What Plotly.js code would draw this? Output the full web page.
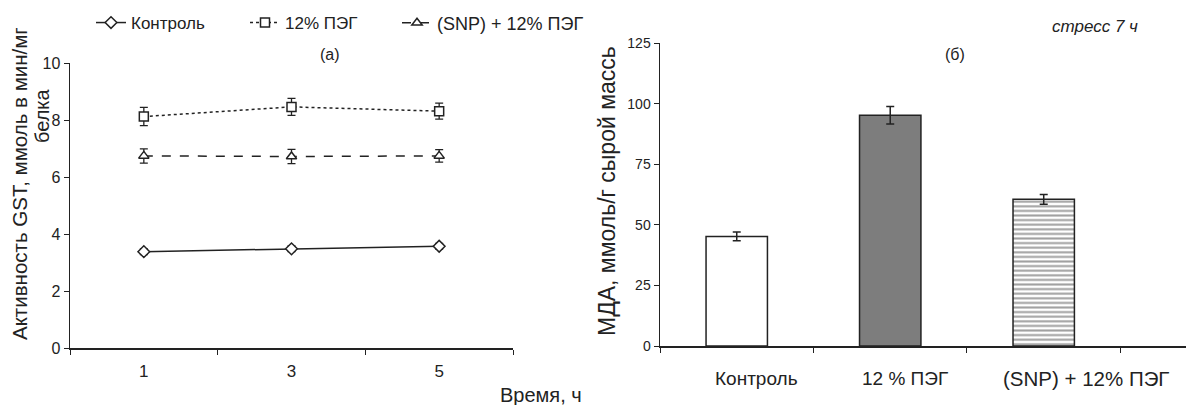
<!DOCTYPE html>
<html>
<head>
<meta charset="utf-8">
<script src="https://cdn.plot.ly/plotly-3.0.1.min.js"></script>
<style>html,body{margin:0;padding:0;background:#fff;}#chart{width:1186px;height:405px;}</style>
</head>
<body>
<div id="chart"></div>
<script>
// Panel (a): GST activity over time
const timeLabels = ['1', '3', '5'];
const controlGST = [3.38, 3.48, 3.57];
const controlGSTErr = [0.10, 0.10, 0.10];
const pegGST = [8.12, 8.46, 8.31];
const pegGSTErr = [0.32, 0.30, 0.28];
const snpGST = [6.74, 6.72, 6.74];
const snpGSTErr = [0.25, 0.25, 0.22];
const seriesNames = ['Контроль', '12% ПЭГ', '(SNP) + 12% ПЭГ'];

// Panel (б): MDA content
const mdaCategories = ['Контроль', '12 % ПЭГ', '(SNP) + 12% ПЭГ'];
const mdaValues = [45.2, 95.2, 60.5];
const mdaErr = [1.8, 3.6, 2.0];

const FONT = 'Liberation Sans, Arial, sans-serif';
const INK = '#222';

function lineTrace(y, err, name, dash, symbol, legendId) {
  return {
    type: 'scatter', mode: 'lines+markers', x: timeLabels, y: y, name: name,
    xaxis: 'x', yaxis: 'y', legend: legendId,
    line: {color: INK, width: 1.5, dash: dash},
    marker: {symbol: symbol, size: 9, color: '#fff', line: {color: INK, width: 1.5}},
    error_y: {type: 'data', array: err, visible: true, color: INK, thickness: 1.3, width: 4}
  };
}

const traces = [
  lineTrace(controlGST, controlGSTErr, seriesNames[0], 'solid', 'diamond', 'legend'),
  lineTrace(pegGST, pegGSTErr, seriesNames[1], 'dot', 'square', 'legend2'),
  lineTrace(snpGST, snpGSTErr, seriesNames[2], 'dash', 'triangle-up', 'legend3'),
  {
    type: 'bar', x: mdaCategories, y: mdaValues, xaxis: 'x2', yaxis: 'y2', showlegend: false,
    width: 0.40,
    marker: {
      color: ['#ffffff', '#7d7d7d', '#ffffff'],
      line: {color: INK, width: 1.5},
      pattern: {shape: ['', '', '-'], size: 4.6, solidity: 0.45, fgcolor: '#000', fillmode: 'overlay'}
    },
    error_y: {type: 'data', array: mdaErr, visible: true, color: INK, thickness: 1.5, width: 4}
  }
];

function ann(text, x, y, size, extra) {
  return Object.assign({text: text, xref: 'paper', yref: 'paper', x: x/1186, y: 1 - y/405,
    xanchor: 'center', yanchor: 'middle', showarrow: false,
    font: {size: size, family: FONT, color: INK}}, extra || {});
}

const catLabelShift = [20, 15, 0];
const catAnnotations = mdaCategories.map((c, i) => ({
  text: c, xref: 'x2', yref: 'paper', x: c, y: 1 - 378/405,
  xanchor: i === 2 ? 'left' : 'center', xshift: i === 2 ? -43 : catLabelShift[i],
  yanchor: 'middle', showarrow: false, font: {size: i === 2 ? 20.5 : 19, family: FONT, color: INK}
}));

function legendAt(xPx, size) {
  return {
    orientation: 'h', x: xPx/1186, xanchor: 'left', y: 1 - 23/405, yanchor: 'middle',
    font: {size: size, family: FONT, color: INK}, bgcolor: 'rgba(0,0,0,0)'
  };
}

const layout = {
  width: 1186, height: 405,
  margin: {l: 0, r: 0, t: 0, b: 0},
  paper_bgcolor: '#fff', plot_bgcolor: 'rgba(0,0,0,0)',
  font: {family: FONT, color: INK, size: 16},
  showlegend: true,
  legend: legendAt(91, 17),
  legend2: legendAt(245, 17),
  legend3: legendAt(397, 18),
  xaxis: {
    domain: [70/1186, 513/1186], type: 'category', range: [-0.5, 2.5],
    showline: true, linecolor: INK, linewidth: 1.5, showgrid: false, zeroline: false,
    ticks: 'outside', ticklen: 5, tickcolor: INK, tickson: 'boundaries', ticklabelstandoff: 7,
    tickfont: {size: 17, family: FONT, color: INK}, automargin: false
  },
  yaxis: {
    domain: [1 - 348/405, 1 - 63/405], range: [0, 10], dtick: 2,
    showline: true, linecolor: INK, linewidth: 1.5, showgrid: false, zeroline: false,
    ticks: 'outside', ticklen: 5, tickcolor: INK,
    tickfont: {size: 16, family: FONT, color: INK}, automargin: false
  },
  xaxis2: {
    domain: [660/1186, 1], type: 'category', range: [-0.5, 2.927], anchor: 'y2',
    showline: true, linecolor: INK, linewidth: 1.5, showgrid: false, zeroline: false,
    ticks: 'outside', ticklen: 5, tickcolor: INK, tickson: 'boundaries',
    showticklabels: false, automargin: false
  },
  yaxis2: {
    domain: [1 - 346/405, 1 - 43/405], range: [0, 125], dtick: 25, anchor: 'x2',
    showline: true, linecolor: INK, linewidth: 1.5, showgrid: false, zeroline: false,
    ticks: 'outside', ticklen: 5, tickcolor: INK,
    tickfont: {size: 14, family: FONT, color: INK}, automargin: false
  },
  annotations: [
    ann('Активность GST, ммоль в мин/мг', 19, 184, 20.5, {textangle: -90}),
    ann('белка', 42, 116, 20, {textangle: -90}),
    ann('Время, ч', 541, 395, 20),
    ann('(а)', 330, 55, 16),
    ann('МДА, ммоль/г сырой массь', 607, 191, 23, {textangle: -90}),
    ann('(б)', 955, 55, 16),
    ann('<i>стресс 7 ч</i>', 1095, 27, 17)
  ].concat(catAnnotations)
};

Plotly.newPlot('chart', traces, layout, {displayModeBar: false, staticPlot: true});
</script>
</body>
</html>
